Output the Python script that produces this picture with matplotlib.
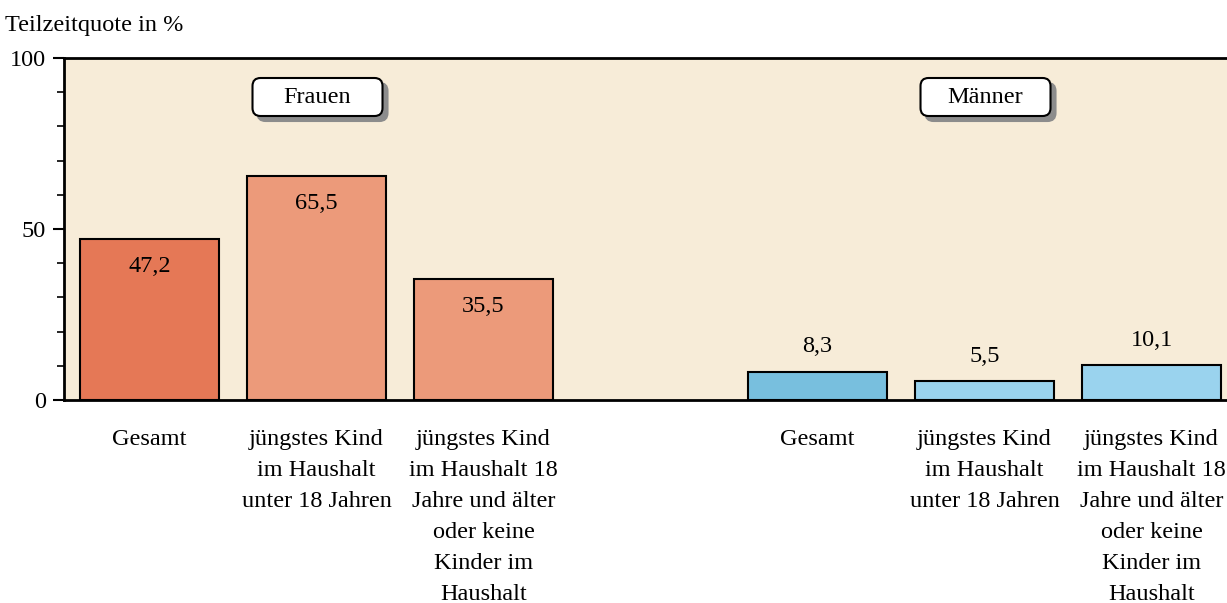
import numpy as np
import matplotlib.pyplot as plt
from matplotlib.patches import FancyBboxPatch
from matplotlib.ticker import MultipleLocator

plt.rcParams['font.family'] = ['Liberation Serif', 'DejaVu Serif']

# data
frauen_kat = ['Gesamt', 'jüngstes Kind\nim Haushalt\nunter 18 Jahren',
              'jüngstes Kind\nim Haushalt 18\nJahre und älter\noder keine\nKinder im\nHaushalt']
maenner_kat = frauen_kat
frauen_werte = [47.2, 65.5, 35.5]
maenner_werte = [8.3, 5.5, 10.1]
frauen_farben = ['#E57856', '#EC9A7A', '#EC9A7A']
maenner_farben = ['#78BFDE', '#9AD3EE', '#9AD3EE']
gruppen = ['Frauen', 'Männer']

FS = 17.5
W, H = 1227, 603
fig = plt.figure(figsize=(W / 100, H / 100), dpi=100)
ax = fig.add_axes([64 / W, (H - 400) / H, (1227 - 64) / W, 342 / H])
ax.set_facecolor('#F7ECD8')

pos_f = np.arange(3)
pos_m = np.arange(4, 7)
ax.bar(pos_f, frauen_werte, width=0.83, color=frauen_farben, edgecolor='black', linewidth=1.5, zorder=2)
ax.bar(pos_m, maenner_werte, width=0.83, color=maenner_farben, edgecolor='black', linewidth=1.5, zorder=2)

# value labels: inside for Frauen, above for Männer
for p, v in zip(pos_f, frauen_werte):
    ax.annotate(f'{v:.1f}'.replace('.', ','), (p, v), xytext=(0, -20), textcoords='offset points',
                ha='center', va='center', fontsize=FS)
for p, v in zip(pos_m, maenner_werte):
    ax.annotate(f'{v:.1f}'.replace('.', ','), (p, v), xytext=(0, 18), textcoords='offset points',
                ha='center', va='center', fontsize=FS)

ax.set_xlim(-0.512, 6.452)
ax.set_ylim(0, 100)
ax.set_xticks(list(pos_f) + list(pos_m))
ax.set_xticklabels(frauen_kat + maenner_kat, fontsize=FS, linespacing=1.62, va='top')
ax.tick_params(axis='x', length=0, pad=21)
ax.yaxis.set_major_locator(MultipleLocator(50))
ax.yaxis.set_minor_locator(MultipleLocator(10))
ax.tick_params(axis='y', which='major', length=8, width=1.5, labelsize=FS, pad=5)
ax.tick_params(axis='y', which='minor', length=5, width=1.2)
for s in ['left', 'bottom', 'top']:
    ax.spines[s].set_linewidth(2)
ax.spines['right'].set_visible(False)

# group boxes with shadow
px = 1 / 167
py = 100 / 342
for name, c in zip(gruppen, [1, 5]):
    x0, x1 = c - 64 * px, c + 66 * px
    y0, y1 = (400 - 116) * py, (400 - 78) * py
    for dx, dy, fc, ec in [(5 * px, -5 * py, '#8C8C8C', '#8C8C8C'), (0, 0, 'white', 'black')]:
        box = FancyBboxPatch((x0 + dx, y0 + dy), x1 - x0, y1 - y0,
                             boxstyle=f'round,pad=0,rounding_size={8 * px}',
                             mutation_aspect=py / px, fc=fc, ec=ec, lw=1.5, zorder=3)
        ax.add_patch(box)
    ax.text((x0 + x1) / 2, (y0 + y1) / 2, name, ha='center', va='center', fontsize=FS, zorder=4)

fig.text(5 / W, 1 - 25 / H, 'Teilzeitquote in %', ha='left', va='center', fontsize=FS)

fig.savefig('out.png', dpi=100)
